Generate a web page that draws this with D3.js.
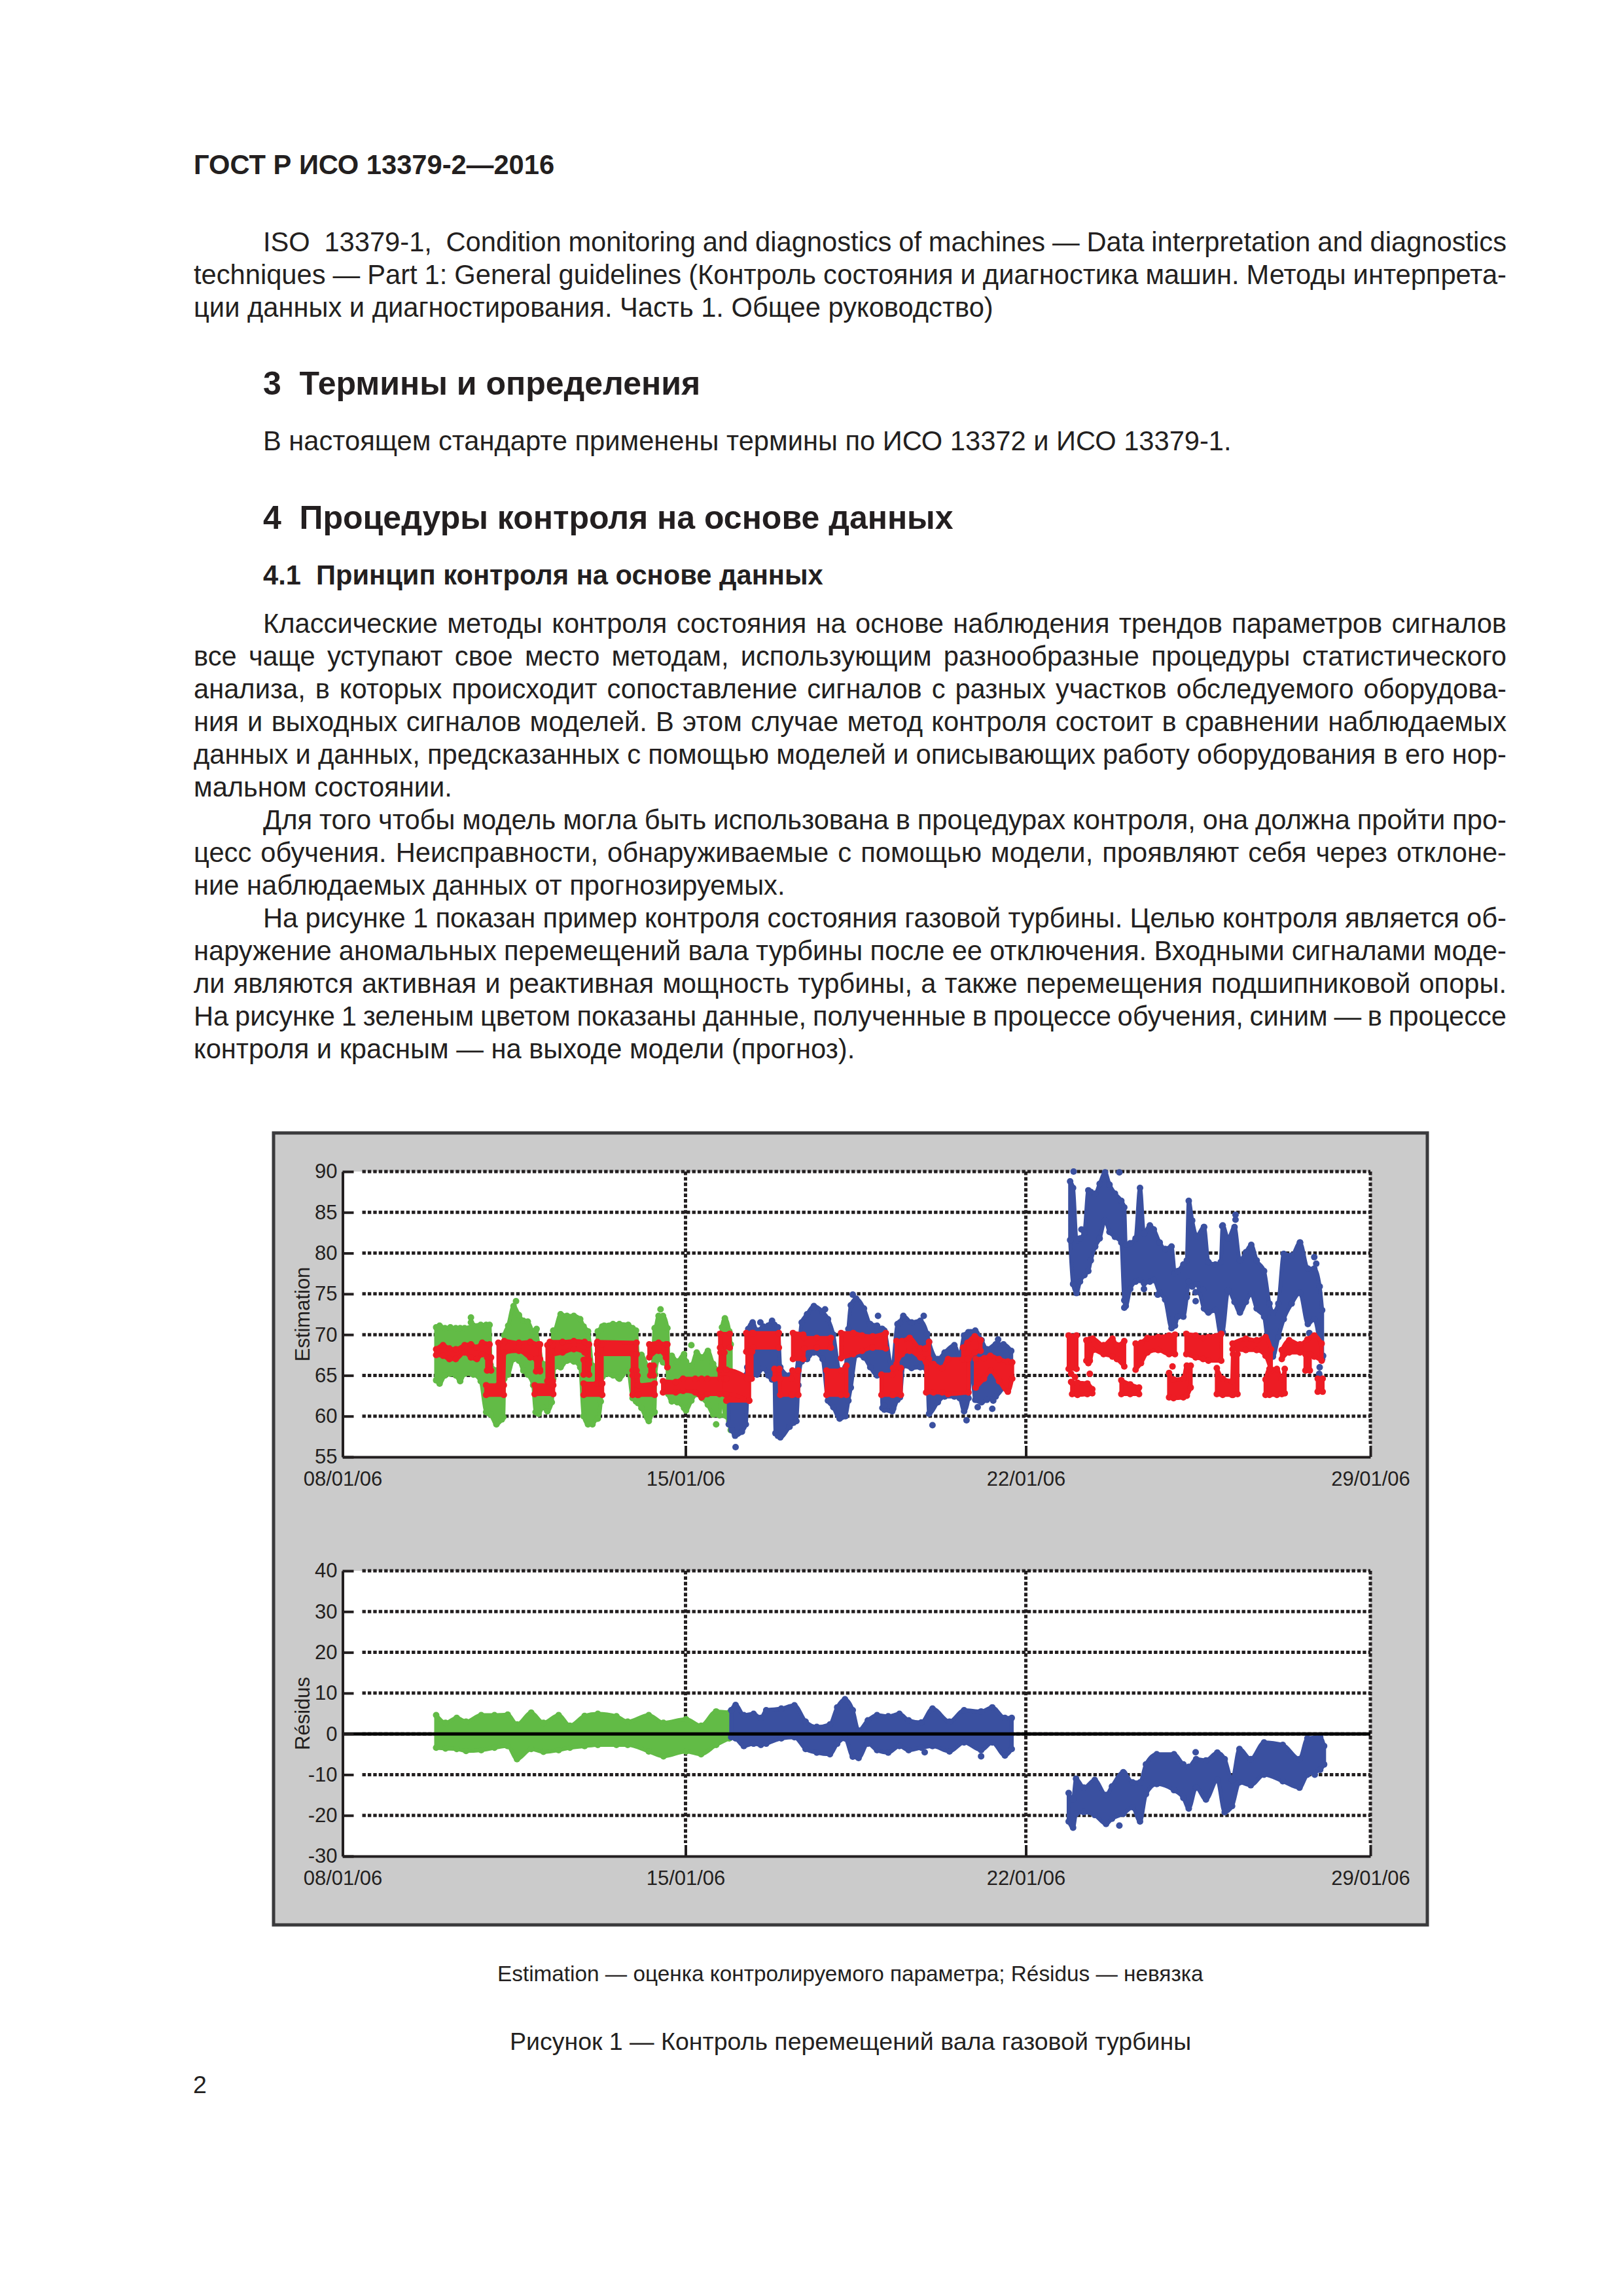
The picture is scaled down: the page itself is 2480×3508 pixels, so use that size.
<!DOCTYPE html>
<html>
<head>
<meta charset="utf-8">
<script src="https://cdn.jsdelivr.net/npm/d3@7"></script>
<style>
    body { margin: 0; background: #fff; }
    text { font-family: "Liberation Sans", Arial, sans-serif; fill: #231f20; white-space: pre; }
</style>
</head>
<body>
<div id="page"></div>
<script>
// all series: [day since 08/01/06, top value, bottom value], null = gap in the trace
const dayTicks = [0, 7, 14, 21];
const dayLabels = ["08/01/06", "15/01/06", "22/01/06", "29/01/06"];
const estTicks = [55, 60, 65, 70, 75, 80, 85, 90];
const resTicks = [-30, -20, -10, 0, 10, 20, 30, 40];

const estGreen = [
    [1.91,70.9,64.4],[1.98,71.1,64],[2.09,70.8,65],[2.2,70.9,65.2],[2.31,70.8,65],[2.4,70.8,64.3],[2.49,70.8,65.2],
    [2.67,71.1,65.1],[2.82,71.2,64.3],[2.93,71.2,60.5],[3,71.2,60.3],[3.02,66.3,60.2],[3.14,65.6,59],[3.25,65,59.6],
    [3.28,66,59.9],[3.3,69.9,64.6],[3.38,71.1,65.1],[3.49,73.5,67],[3.6,72.4,66.8],[3.69,71.7,65.6],[3.78,71.6,65.1],
    [3.89,70.4,63.8],[3.94,70.4,60.5],[4,68.8,60.3],[4.09,66.4,61.1],[4.18,66.4,60.6],[4.27,66.4,61.7],[4.3,70.5,64.6],
    [4.32,70.5,66],[4.45,72.5,66],[4.58,72.3,66.8],[4.72,72.3,66.7],[4.85,71.9,66],[4.92,71,60],[5.01,70.4,59],
    [5.1,66.2,59],[5.19,66,59.7],[5.21,70.4,59.7],[5.27,70.6,61.8],[5.3,71,64.8],[5.34,71.1,65.1],[5.52,71.3,65],
    [5.65,71.3,64.6],[5.83,71.2,65.6],[5.92,70.8,62.2],[5.99,70.5,61.8],[6.03,67.4,61.6],[6.1,67.5,61],[6.25,66,59.4],
    [6.33,66,60.4],[6.37,70.8,60.5],[6.38,70.8,65.1],[6.45,72.3,67],[6.54,72.3,66.6],[6.63,70.8,66],[6.65,67.3,62.7],
    [6.72,67.4,61.8],[6.83,66.7,61.7],[6.97,67.6,61],[7.01,66.7,60.7],[7.12,66.2,61.9],[7.23,67.8,62.7],[7.34,67.2,62.2],
    [7.46,68,61.4],[7.57,66.4,60.2],[7.7,65.6,60.1],[7.75,70.9,64.3],[7.81,72,60.1],[7.9,70.4,59.4],[7.93,68.8,58.3]
];
const estGreenDots = [
    [3.54,74.1],[2.62,72.1],[2.62,71.5],[6.49,73.1],[7.63,59],[7.12,68.7],[2.4,64.6],[3.96,70.7],[2.82,64.6],[6.1,67.5],[5.63,64.7]
];

const estBlue = [
    [7.89,64.6,59],[7.95,64.6,58.3],[8.02,64.6,57.6],[8.16,64.6,58.1],[8.24,65,59],[8.27,66,62.5],[8.29,70.7,65.6],
    [8.38,71.5,65.2],[8.47,70.5,65.1],[8.6,71,65.9],[8.7,71.1,65],[8.78,71.7,64.5],[8.83,71.2,64.5],[8.85,71,57.9],
    [8.9,70.9,57.6],[8.95,66,57.4],[9.14,65,58.7],[9.22,65,59.2],[9.28,65.5,59.4],[9.32,67.3,63.8],[9.39,71.5,66.7],
    [9.5,72.5,67],[9.64,73.5,67.8],[9.82,72.8,67],[9.93,71.9,61.9],[10.04,70,61.1],[10.17,65.6,59.7],[10.29,66,60],
    [10.35,70.7,61.9],[10.4,73.6,63.5],[10.51,74.4,67.5],[10.67,73.2,67.2],[10.8,71.3,66],[10.94,71.1,65],[11.03,70.7,65],
    [11.05,70.7,61],[11.09,70.5,60.8],[11.25,65.8,60.6],[11.36,71.3,62],[11.41,71.5,62.3],[11.48,72.3,66.2],[11.65,71.5,65.9],
    [11.83,71.7,66],[11.97,70.1,65.6],[12.01,69.1,60.3],[12.19,67,61.7],[12.33,67.8,62.4],[12.53,68.7,62.4],[12.64,67.4,62.2],
    [12.73,69.9,60.6],[12.82,70.3,62.2],[12.87,70.3,66.8],[12.96,70.5,62],[13.09,69.3,61.7],[13.2,68.2,62],[13.38,68.8,62.4],
    [13.54,68.8,63.5],[13.7,68,64.6],
    null,
    [14.9,88.8,81.6],[14.96,88,76.2],[15.03,81.6,75.1],[15.1,81.8,76.5],[15.19,82.5,77.3],[15.27,87.7,77.8],[15.32,87.5,79.1],
    [15.41,87.3,80.8],[15.5,88.5,81.8],[15.61,89.9,84],[15.7,88.4,82.6],[15.81,87.3,82],[15.94,86.4,81.3],[16,85.6,74.2],
    [16.03,81,73.5],[16.12,81.2,75.6],[16.23,81.8,76.5],[16.32,88,76.7],[16.4,82.4,76.3],[16.52,83.4,76.5],[16.6,82.9,76.7],
    [16.72,81.3,75.1],[16.83,80.5,74.3],[16.96,80.8,70.8],[17.03,77.5,71.1],[17.09,77.8,72.2],[17.2,78.6,72.2],[17.27,79.1,74.6],
    [17.31,86.4,76.5],[17.38,84,75.9],[17.47,82.1,76.2],[17.62,83.2,73.2],[17.71,78.9,72.7],[17.85,78.6,73],[17.96,78.9,70],
    [18,83.4,70.3],[18.11,81.8,75.4],[18.24,83.2,74],[18.35,79.1,72.7],[18.47,80.1,74],[18.58,81,75],[18.69,79.1,73.2],
    [18.84,77.8,72.2],[18.95,73.8,67.6],[19.02,72.7,67.3],[19.13,73.8,69.7],[19.24,79.9,71.9],[19.4,79.7,73.8],[19.57,81.3,75.1],
    [19.73,78.1,71.3],[19.86,78.1,71.9],[19.97,75.9,69],[20.02,73,67]
];
const estBlueDots = [
    [8.03,56.2],[10.44,74.9],[9.64,73.3],[9.87,73.1],[10.96,72.3],[8.54,71.5],[11.9,72.3],[12.8,69.9],[13.43,69.4],
    [13.31,60.9],[13.01,61.1],[13.33,61.9],[12.78,59.5],[12.08,58.9],[11.27,60.9],[11.09,61.3],
    [14.97,90],[15.9,89.9],[15.13,82.9],[16,73.3],[16.4,75.6],[16.68,74.9],[17.45,75.2],[17.45,74.1],[17.6,75.5],[17.62,83.2],
    [18.26,84.7],[18.26,84.1],[17.99,83.3],[19.86,79.5],[19.9,78.7],[19.76,70.2],[19.97,66],[19.96,65.2],[19.57,81.3],[20.04,67.4]
];

const estRed = [
    [1.91,68.2,67.5],[2.05,68.7,67.4],[2.18,68.3,67],[2.31,68.2,67],[2.49,68.7,67.8],[2.62,68.8,67.2],[2.74,68.4,67],[2.85,69,67.6],[3,68.8,67.2], null,
    [2.95,67.2,65.6],[3.03,67.2,65.6], null,
    [2.93,63.8,62.6],[3.29,63.8,62.6], null,
    [3.18,69,63.8],[3.28,69,63.8],[3.3,69.2,67.8],[3.6,69,68],[3.83,69.1,67.2],[4,68.8,67],[4.03,68.8,65.7], null,
    [3.95,67,65.5],[4.03,67,65.5], null,
    [3.92,63.8,62.7],[4.3,63.8,62.7], null,
    [4.18,68.7,64.3],[4.29,68.7,64.3], null,
    [4.23,69.1,67.5],[4.49,69.1,67.8],[4.72,69.2,68.2],[4.94,69.1,67.8],[5.03,68.8,66.4], null,
    [4.92,66.9,65.1],[5.03,66.9,65.1], null,
    [4.92,64,62.6],[5.3,64,62.6], null,
    [5.19,68.8,64],[5.29,68.8,64], null,
    [5.2,69.1,67.6],[6,69,67.6], null,
    [5.92,67.6,65.6],[6,67.6,65.6], null,
    [5.92,65,62.6],[6.02,65,62.6],[6.04,63.8,62.6],[6.37,64,62.6], null,
    [6.28,66.2,65],[6.35,66.2,65], null,
    [6.26,68.8,67.2],[6.45,69,68],[6.6,68.8,67.2],[6.63,68.8,66], null,
    [6.54,64.3,62.9],[6.8,64.2,62.9],[6.95,64.6,63.1],[7.2,64.6,62.9],[7.33,64.6,62.3],[7.45,64.6,62.7],[7.8,64.6,62.7], null,
    [7.72,67.8,64.6],[7.8,67.8,64.6], null,
    [7.71,70.1,68.4],[7.91,70.1,68.4], null,
    [7.7,65.7,62.7],[7.84,65.7,62.7],[8.31,64.6,61.9], null,
    [7.84,64.6,61.9],[8.31,64.6,61.9], null,
    [8.25,70.2,67.9],[8.37,70.2,67.9],[8.39,70.2,68.4],[8.92,70.2,68.4], null,
    [8.27,67.9,64.6],[8.36,67.9,64.6], null,
    [8.83,65.8,64.6],[8.93,65.8,64.6],[8.95,64.6,62.6],[9.18,64.6,62.6],[9.2,65.6,62.6],[9.32,65.6,62.6], null,
    [9.21,70.2,67],[9.42,70,67],[9.44,69.6,68.3],[9.7,69.6,68.4],[9.99,69.6,68.4], null,
    [9.9,65.6,62.6],[10.2,65.6,62.6],[10.31,66.2,62.6], null,
    [10.2,70.2,67.1],[10.45,70.2,67.6],[10.63,69.9,68],[10.85,69.8,68.4],[11.12,70.2,68.3], null,
    [11.03,65.1,62.6],[11.25,65.1,62.6],[11.27,65.9,62.6],[11.43,65.9,62.6], null,
    [11.34,69.2,66.4],[11.45,69.2,67.6],[11.61,69.6,68],[11.83,68.3,67.2],[11.93,68.3,66.9],[12.01,69.1,67], null,
    [11.95,66.6,62.9],[12.1,66.4,62.9],[12.28,65.9,62.9],[12.4,67,62.7],[12.82,67,62.9], null,
    [12.71,68.4,67],[12.8,69,67],[12.95,69.8,67.8],[13.07,69.3,68], null,
    [12.97,67,63.5],[13.14,67.1,64.6],[13.27,67.4,65.6],[13.45,67,64.3],[13.63,66.7,63],[13.72,66.6,64.6], null,
    [14.87,69.9,65.8],[15.03,69.9,65.8], null,
    [14.94,64.1,62.7],[15.05,64.1,62.6],[15.25,64,62.7],[15.35,63.3,62.8], null,
    [15.23,69.3,66.8],[15.3,69.4,66.8],[15.36,69.5,68.1],[15.58,68.7,67.6],[15.76,69.5,67.3],[15.85,68.7,67],[16,69.2,66.1], null,
    [15.94,64.4,62.7],[16.12,63.9,62.7],[16.3,63.5,62.7], null,
    [16.23,68.9,65.7],[16.34,69,66.5],[16.47,69.6,67.8],[16.69,69.7,68.1],[16.91,69.9,67.6],[17.03,70,67.6], null,
    [16.91,65.3,62.3],[17,64.5,62.2],[17.2,64.6,62.3],[17.27,66.2,62.5],[17.35,66.2,63.5], null,
    [17.26,70.1,67.6],[17.45,69.9,67.2],[17.6,69.6,67],[17.71,69.7,66.8],[17.97,70.1,66.8], null,
    [17.88,65.9,62.7],[18,64.6,62.6],[18.19,64.3,62.6],[18.21,67.6,62.6],[18.3,67.6,62.7], null,
    [18.2,68.9,68.2],[18.47,69.5,68.1],[18.69,69.3,68.1],[18.87,69.7,67.4],[18.98,68.2,65.6], null,
    [18.87,64.5,62.6],[18.95,65.8,62.6],[19.1,65.8,62.6],[19.2,64.5,62.7],[19.26,65.8,62.8], null,
    [19.2,68.1,67],[19.35,69.3,67.8],[19.57,68.8,67.8],[19.72,69.4,67.6],[19.86,69.9,67.3],[20.01,68.9,66.8], null,
    [19.68,67.6,65.6],[19.77,67.6,65.6], null,
    [19.93,64.6,63],[20.03,64.6,63]
];
const estRedDots = [
    [14.92,65.2],[15,64.8],[14.92,64.2],[15.3,65.2],[15.27,66.5],[16.98,66.1],[17.29,66.1],[13.0,65.5]
];

const resGreen = [
    [1.91,4.6,-3.4],[2.1,2.7,-3.6],[2.33,3.9,-3.7],[2.52,3,-4.2],[2.83,4.6,-4],[3.1,4.6,-3.4],[3.37,4.7,-3],
    [3.56,2.3,-6.2],[3.85,5.2,-3.7],[4.1,2.7,-4.4],[4.41,4.6,-4],[4.64,2,-3.4],[4.94,4.4,-3],[5.21,4.9,-2.7],
    [5.59,4.3,-2.7],[5.82,3,-2.7],[6.25,4.6,-4.3],[6.55,2.7,-5.5],[7.01,3.6,-4.3],[7.32,2,-5],[7.63,5.5,-2.7],[7.9,5.2,-1.1]
];
const resBlue = [
    [7.94,5.8,-0.8],[8.03,7.1,-1.1],[8.2,4.6,-3],[8.4,4.9,-2.4],[8.55,3.9,-2.7],[8.66,5.8,-2.4],[8.97,6.2,-1.1],
    [9.24,7,-0.8],[9.47,3,-3.7],[9.7,1.7,-4.6],[9.97,2.3,-5],[10.12,6.5,-2.4],[10.28,8.5,-1.1],[10.44,5.8,-5.6],
    [10.56,0.8,-5.9],[10.75,3.3,-2.4],[10.94,4.6,-4],[11.17,4.3,-4.6],[11.4,4.9,-3],[11.59,3.3,-4],[11.85,2.8,-3.4],
    [12.08,6.2,-3],[12.43,3,-4.3],[12.73,5.8,-2.1],[13.08,5.5,-4],[13.31,6.5,-2.1],[13.57,3.9,-5.3],[13.71,3.9,-3.7],
    null,
    [14.87,-14.5,-21.5],[14.96,-16,-23],[15.02,-11,-19.6],[15.18,-13.2,-19.2],[15.4,-11.3,-19.9],[15.63,-15,-22.1],
    [15.75,-12.9,-20.8],[15.98,-9.4,-19.6],[16.17,-11.9,-18],[16.32,-11.9,-21.5],[16.44,-7.5,-14.8],[16.66,-5,-12.3],
    [17.01,-5,-13.8],[17.2,-7.5,-15.7],[17.31,-8.1,-18.3],[17.46,-6.2,-13.2],[17.66,-6.5,-16.1],[17.89,-4.6,-11.3],
    [18.04,-6.2,-19.2],[18.19,-11.3,-17.7],[18.34,-3.7,-11.9],[18.57,-6.2,-12.6],[18.84,-2.1,-10],[19.22,-2.7,-11.6],
    [19.56,-6.2,-13.2],[19.72,-1.1,-10],[19.98,-0.8,-8.8],[20.06,-3,-7.5]
];
const resBlueDots = [[11.92,-4.5],[13.08,-5.5],[15.9,-22.5],[16,-9.7],[17.45,-4.5],[19.87,-10]];

// page text: [string, x, baseline, size, bold, justified]
const pageText = [
    ["ГОСТ Р ИСО 13379-2—2016", 296, 266, 41.67, true],
    ["ISO  13379-1,  Condition monitoring and diagnostics of machines — Data interpretation and diagnostics", 402, 384, 41.67, false, true],
    ["techniques — Part 1: General guidelines (Контроль состояния и диагностика машин. Методы интерпрета-", 296, 434, 41.67, false, true],
    ["ции данных и диагностирования. Часть 1. Общее руководство)", 296, 484, 41.67],
    ["3  Термины и определения", 402, 603, 50, true],
    ["В настоящем стандарте применены термины по ИСО 13372 и ИСО 13379-1.", 402, 688, 41.67],
    ["4  Процедуры контроля на основе данных", 402, 808, 50, true],
    ["4.1  Принцип контроля на основе данных", 402, 893, 41.67, true],
    ["Классические методы контроля состояния на основе наблюдения трендов параметров сигналов", 402, 967, 41.67, false, true],
    ["все чаще уступают свое место методам, использующим разнообразные процедуры статистического", 296, 1017, 41.67, false, true],
    ["анализа, в которых происходит сопоставление сигналов с разных участков обследуемого оборудова-", 296, 1067, 41.67, false, true],
    ["ния и выходных сигналов моделей. В этом случае метод контроля состоит в сравнении наблюдаемых", 296, 1117, 41.67, false, true],
    ["данных и данных, предсказанных с помощью моделей и описывающих работу оборудования в его нор-", 296, 1167, 41.67, false, true],
    ["мальном состоянии.", 296, 1217, 41.67],
    ["Для того чтобы модель могла быть использована в процедурах контроля, она должна пройти про-", 402, 1267, 41.67, false, true],
    ["цесс обучения. Неисправности, обнаруживаемые с помощью модели, проявляют себя через отклоне-", 296, 1317, 41.67, false, true],
    ["ние наблюдаемых данных от прогнозируемых.", 296, 1367, 41.67],
    ["На рисунке 1 показан пример контроля состояния газовой турбины. Целью контроля является об-", 402, 1417, 41.67, false, true],
    ["наружение аномальных перемещений вала турбины после ее отключения. Входными сигналами моде-", 296, 1467, 41.67, false, true],
    ["ли являются активная и реактивная мощность турбины, а также перемещения подшипниковой опоры.", 296, 1517, 41.67, false, true],
    ["На рисунке 1 зеленым цветом показаны данные, полученные в процессе обучения, синим — в процессе", 296, 1567, 41.67, false, true],
    ["контроля и красным — на выходе модели (прогноз).", 296, 1617, 41.67],
    ["Estimation — оценка контролируемого параметра; Résidus — невязка", 760, 3027, 33.33],
    ["Рисунок 1 — Контроль перемещений вала газовой турбины", 779, 3132, 37.5],
    ["2", 295, 3198, 37.5]
];

const GREEN = "#62bb46", BLUE = "#3a50a0", RED = "#ed1c24", INK = "#231f20";
const RIGHT_MARGIN = 2302;

const svg = d3.select("#page").append("svg")
    .attr("width", 2480)
    .attr("height", 3508)
    .style("display", "block");

pageText.forEach(([str, x, y, size, bold, justified]) => {
    const t = svg.append("text")
        .attr("x", x)
        .attr("y", y)
        .attr("font-size", size)
        .attr("font-weight", bold ? "bold" : "normal")
        .text(str);
    if (justified) {
        const gaps = str.split(" ").length - 1;
        const extra = RIGHT_MARGIN - x - t.node().getComputedTextLength();
        t.style("word-spacing", `${extra / gaps}px`);
    }
});

// grey panel
svg.append("rect")
    .attr("x", 418)
    .attr("y", 1731)
    .attr("width", 1763)
    .attr("height", 1210)
    .attr("fill", "#cbcbcb")
    .attr("stroke", "#3a3a3c")
    .attr("stroke-width", 5);

function band(g, rows, color, x, y) {
    const area = d3.area()
        .defined((d) => d !== null)
        .curve(d3.curveMonotoneX)
        .x((d) => x(d[0]))
        .y0((d) => y(d[2]))
        .y1((d) => y(d[1]));
    g.append("path")
        .attr("d", area(rows))
        .attr("fill", color)
        .attr("stroke", color)
        .attr("stroke-width", 6)
        .attr("stroke-linejoin", "round");

    // each reading ends in a marker, that gives the edge its lumps
    const ends = rows.filter((d) => d !== null)
        .flatMap((d) => [[d[0], d[1]], [d[0], d[2]]]);
    dots(g, ends, color, x, y);
}

function dots(g, rows, color, x, y) {
    g.selectAll(null)
        .data(rows)
        .enter()
        .append("circle")
        .attr("cx", (d) => x(d[0]))
        .attr("cy", (d) => y(d[1]))
        .attr("r", 5)
        .attr("fill", color);
}

function plot(top, bottom, yDomain, yTicks, yTitle, drawData) {
    const x = d3.scaleLinear().domain(dayTicks).range([523.5, 1047.5, 1567.5, 2094]);
    const y = d3.scaleLinear().domain(yDomain).range([bottom, top]);
    const g = svg.append("g");

    g.append("rect")
        .attr("x", x(0))
        .attr("y", top)
        .attr("width", x(21) - x(0))
        .attr("height", bottom - top)
        .attr("fill", "#fff");

    // dotted grid
    const dotted = (sel) => sel
        .attr("stroke", INK)
        .attr("stroke-width", 5)
        .attr("stroke-dasharray", "5.4 3");

    g.selectAll(".gy")
        .data(yTicks.filter((d) => d !== yDomain[0]))
        .enter()
        .append("line")
        .attr("x1", x(0) + 30)
        .attr("x2", x(21))
        .attr("y1", (d) => y(d))
        .attr("y2", (d) => y(d))
        .call(dotted);

    g.selectAll(".gx")
        .data(dayTicks.slice(1))
        .enter()
        .append("line")
        .attr("x1", (d) => x(d))
        .attr("x2", (d) => x(d))
        .attr("y1", top)
        .attr("y2", bottom - 20)
        .call(dotted);

    drawData(g, x, y);

    const yAxis = g.append("g")
        .attr("transform", `translate(${x(0)},0)`)
        .call(d3.axisLeft(y).tickValues(yTicks).tickFormat(String).tickSize(-17).tickSizeOuter(0).tickPadding(8));
    const xAxis = g.append("g")
        .attr("transform", `translate(0,${bottom})`)
        .call(d3.axisBottom(x).tickValues(dayTicks).tickFormat((d, i) => dayLabels[i]).tickSize(-17).tickSizeOuter(0).tickPadding(22));

    [yAxis, xAxis].forEach((a) => {
        a.select(".domain").attr("stroke", INK).attr("stroke-width", 4);
        a.selectAll(".tick line").attr("stroke", INK).attr("stroke-width", 4);
        a.selectAll("text")
            .attr("font-size", 31)
            .attr("font-family", "Liberation Sans")
            .attr("fill", INK);
    });

    g.append("text")
        .attr("transform", `translate(473,${(top + bottom) / 2}) rotate(-90)`)
        .attr("text-anchor", "middle")
        .attr("font-size", 31)
        .text(yTitle);
}

plot(1790, 2226, [55, 90], estTicks, "Estimation", (g, x, y) => {
    band(g, estGreen, GREEN, x, y);
    dots(g, estGreenDots, GREEN, x, y);
    band(g, estBlue, BLUE, x, y);
    dots(g, estBlueDots, BLUE, x, y);
    band(g, estRed, RED, x, y);
    dots(g, estRedDots, RED, x, y);
});

plot(2400, 2836, [-30, 40], resTicks, "Résidus", (g, x, y) => {
    band(g, resGreen, GREEN, x, y);
    band(g, resBlue, BLUE, x, y);
    dots(g, resBlueDots, BLUE, x, y);
    // zero line sits over the traces
    g.append("line")
        .attr("x1", x(0))
        .attr("x2", x(21))
        .attr("y1", y(0))
        .attr("y2", y(0))
        .attr("stroke", "#000")
        .attr("stroke-width", 5);
});
</script>
</body>
</html>
